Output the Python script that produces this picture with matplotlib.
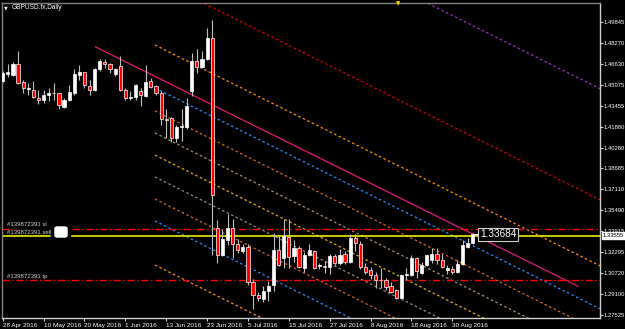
import matplotlib
matplotlib.use('Agg')
import matplotlib.pyplot as plt
from matplotlib.patches import Rectangle, FancyBboxPatch
import numpy as np

plt.rcParams['font.family'] = ['Liberation Sans', 'DejaVu Sans']

# GBPUSD.fx daily bars, 28 Apr 2016 .. 5 Sep 2016 (weekdays)
opens = [1.4535, 1.4592, 1.4577, 1.4661, 1.4526, 1.4472, 1.4470, 1.4406, 1.4394, 1.4432,
         1.4440, 1.4440, 1.4338, 1.4389, 1.4444, 1.4581, 1.4602, 1.4495, 1.4470, 1.4623,
         1.4681, 1.4661, 1.4589, 1.4648, 1.4470, 1.4404, 1.4412, 1.4457, 1.4422, 1.4534,
         1.4495, 1.4444, 1.4245, 1.4250, 1.4101, 1.4186, 1.4186, 1.4460, 1.4686, 1.4640,
         1.4699, 1.4863, 1.3416, 1.3206, 1.3325, 1.3416, 1.3297, 1.3240, 1.3270, 1.3003,
         1.2906, 1.2873, 1.2937, 1.2982, 1.3251, 1.3190, 1.3350, 1.3200, 1.3261, 1.3110,
         1.3213, 1.3243, 1.3128, 1.3128, 1.3120, 1.3202, 1.3145, 1.3220, 1.3156, 1.3339,
         1.3296, 1.3118, 1.3092, 1.3057, 1.3016, 1.3020, 1.2970, 1.2940, 1.2884, 1.3060,
         1.3060, 1.3183, 1.3072, 1.3130, 1.3175, 1.3216, 1.3175, 1.3098, 1.3105, 1.3080,
         1.3143, 1.3270, 1.3300]
highs = [1.4610, 1.4661, 1.4681, 1.4762, 1.4539, 1.4521, 1.4533, 1.4470, 1.4470, 1.4482,
         1.4521, 1.4444, 1.4406, 1.4508, 1.4623, 1.4655, 1.4604, 1.4539, 1.4635, 1.4699,
         1.4699, 1.4673, 1.4636, 1.4724, 1.4482, 1.4457, 1.4513, 1.4482, 1.4655, 1.4559,
         1.4508, 1.4457, 1.4318, 1.4260, 1.4200, 1.4320, 1.4407, 1.4750, 1.4775, 1.4762,
         1.4940, 1.5001, 1.3474, 1.3406, 1.3525, 1.3480, 1.3333, 1.3297, 1.3290, 1.3029,
         1.2929, 1.2975, 1.3010, 1.3378, 1.3358, 1.3480, 1.3480, 1.3320, 1.3280, 1.3230,
         1.3290, 1.3250, 1.3150, 1.3166, 1.3220, 1.3220, 1.3255, 1.3240, 1.3370, 1.3370,
         1.3318, 1.3150, 1.3115, 1.3080, 1.3110, 1.3035, 1.3003, 1.2950, 1.3062, 1.3110,
         1.3212, 1.3194, 1.3155, 1.3220, 1.3266, 1.3266, 1.3220, 1.3130, 1.3122, 1.3168,
         1.3325, 1.3338, 1.3380]
lows = [1.4525, 1.4564, 1.4572, 1.4513, 1.4444, 1.4432, 1.4406, 1.4356, 1.4371, 1.4381,
        1.4394, 1.4323, 1.4330, 1.4381, 1.4432, 1.4539, 1.4483, 1.4432, 1.4457, 1.4610,
        1.4635, 1.4597, 1.4572, 1.4457, 1.4394, 1.4389, 1.4389, 1.4343, 1.4414, 1.4483,
        1.4432, 1.4200, 1.4101, 1.4071, 1.4070, 1.4077, 1.4173, 1.4420, 1.4597, 1.4635,
        1.4693, 1.3213, 1.3145, 1.3201, 1.3287, 1.3186, 1.3226, 1.3226, 1.2983, 1.2799,
        1.2861, 1.2848, 1.2860, 1.2935, 1.3122, 1.3112, 1.3110, 1.3155, 1.3107, 1.3080,
        1.3200, 1.3100, 1.3100, 1.3075, 1.3067, 1.3136, 1.3130, 1.3140, 1.3150, 1.3240,
        1.3105, 1.3062, 1.3030, 1.2960, 1.2960, 1.2940, 1.2920, 1.2876, 1.2880, 1.3020,
        1.3050, 1.3034, 1.3065, 1.3125, 1.3150, 1.3140, 1.3110, 1.3064, 1.3067, 1.3073,
        1.3130, 1.3260, 1.3295]
closes = [1.4597, 1.4604, 1.4661, 1.4516, 1.4483, 1.4485, 1.4414, 1.4394, 1.4432, 1.4444,
          1.4442, 1.4351, 1.4394, 1.4450, 1.4589, 1.4602, 1.4501, 1.4470, 1.4627, 1.4686,
          1.4661, 1.4623, 1.4630, 1.4470, 1.4406, 1.4412, 1.4508, 1.4432, 1.4528, 1.4490,
          1.4444, 1.4248, 1.4240, 1.4097, 1.4186, 1.4190, 1.4345, 1.4686, 1.4643, 1.4699,
          1.4863, 1.3670, 1.3206, 1.3333, 1.3416, 1.3297, 1.3244, 1.3270, 1.3003, 1.2906,
          1.2880, 1.2937, 1.2975, 1.3245, 1.3137, 1.3358, 1.3194, 1.3261, 1.3116, 1.3210,
          1.3246, 1.3111, 1.3136, 1.3118, 1.3204, 1.3145, 1.3213, 1.3156, 1.3339, 1.3303,
          1.3118, 1.3082, 1.3054, 1.3016, 1.3020, 1.2963, 1.2930, 1.2884, 1.3057, 1.3066,
          1.3183, 1.3086, 1.3137, 1.3210, 1.3220, 1.3175, 1.3120, 1.3110, 1.3080, 1.3143,
          1.3285, 1.3300, 1.33684]

date_labels = ['28 Apr 2016', '10 May 2016', '20 May 2016', '1 Jun 2016', '13 Jun 2016',
               '23 Jun 2016', '5 Jul 2016', '15 Jul 2016', '27 Jul 2016', '8 Aug 2016',
               '18 Aug 2016', '30 Aug 2016']
date_label_bars = [0, 8, 16, 24, 32, 40, 48, 56, 64, 72, 80, 88]

price_ticks = [1.49845, 1.48270, 1.46630, 1.45075, 1.43455, 1.41880, 1.40260, 1.38685,
               1.37110, 1.35490, 1.33915, 1.32295, 1.30720, 1.29100, 1.27525]

# order #139872391
sl_price = 1.3410
sell_price = 1.33555
tp_price = 1.3020
label_price = 1.33684

# trend line + parallel channel (price at channel_start bar, same slope for all)
trend_bar0, trend_price0, trend_bar1 = 18.1, 1.4796, 112.6
channel_start = 29.8
channel_slope = -0.001931
channel_levels = [1.6158, 1.5312, 1.4809, 1.4482, 1.4307, 1.4139, 1.3971, 1.3804,
                  1.3636, 1.3469, 1.3133]
channel_colors = ['#9932cc', '#e00000', '#ff8c00', '#1e90ff', '#d2691e', '#a89070',
                  '#e0b000', '#9a8a7a', '#d2691e', '#1e90ff', '#ff8c00']

W, H = 625, 329
fig = plt.figure(figsize=(W / 100, H / 100), dpi=100, facecolor='black')
ax = fig.add_axes([2 / W, 1 - 318 / H, 598 / W, 315 / H], facecolor='black')
ax.set_xlim(-0.14, 116.9)
ax.set_ylim(1.27296, 1.51292)

grey = '#c0c0c0'

# channel lines
xs_end = 117.0
for lvl, col in zip(channel_levels, channel_colors):
    ax.plot([channel_start, xs_end], [lvl, lvl + channel_slope * (xs_end - channel_start)],
            color=col, lw=0.9, linestyle=(0, (2, 2)), zorder=1)
ax.plot([trend_bar0, trend_bar1],
        [trend_price0, trend_price0 + channel_slope * (trend_bar1 - trend_bar0)],
        color='#e0187a', lw=0.9, zorder=1)

# order lines
yt = ax.get_yaxis_transform()
dd = (0, (5, 2, 1, 2))
ax.plot([0, 0.025], [sl_price, sl_price], color='red', lw=1, ls=dd, transform=yt, zorder=2)
ax.plot([0.117, 1], [sl_price, sl_price], color='red', lw=1, ls=dd, transform=yt, zorder=2)
ax.plot([0, 1], [tp_price, tp_price], color='red', lw=1, ls=dd, transform=yt, zorder=2)
ax.plot([0, 0.08], [sell_price, sell_price], color='#ffff00', lw=1.1, transform=yt, zorder=2)
ax.plot([0.117, 1], [sell_price, sell_price], color='#ffff00', lw=1.1, transform=yt, zorder=2)

# candles
bw = 0.62
for i, (o, h, l, c) in enumerate(zip(opens, highs, lows, closes)):
    ax.plot([i, i], [l, h], color=grey, lw=0.8, zorder=3, solid_capstyle='butt')
    lo, hi = min(o, c), max(o, c)
    if hi - lo < 0.0004:
        hi = lo + 0.0004
    fc = 'white' if c >= o else '#ff0000'
    ax.add_patch(Rectangle((i - bw / 2, lo), bw, hi - lo, facecolor=fc,
                           edgecolor='white', lw=0.5, zorder=4))

# texts for the order
tkw = dict(fontsize=4.3, color='#d0d0d0', va='center', ha='left', transform=fig.transFigure)
fig.text(7 / W, 1 - 225 / H, '#139872391 sl', **tkw)
fig.text(7 / W, 1 - 232.5 / H, '#139872391 sell', **tkw)
fig.text(7 / W, 1 - 276.5 / H, '#139872391 tp', **tkw)
fig.patches.append(FancyBboxPatch((55 / W, 1 - 237 / H), 12 / W, 10 / H,
                                  boxstyle='round,pad=0,rounding_size=0.004',
                                  facecolor='white', edgecolor='white',
                                  transform=fig.transFigure, figure=fig))

# price label near the last bar
n = len(closes)
ax.plot([n - 1, n - 0.1], [label_price, label_price], color='white', lw=0.8, zorder=5)
ax.text(n + 0.4, label_price, '1.33684', fontsize=7.2, color='white', va='center', ha='left',
        zorder=6,
        bbox=dict(boxstyle='square,pad=0.15', facecolor='black', edgecolor='#d0d0d0', lw=0.8))

# axes look
for s in ['left', 'top']:
    ax.spines[s].set_color('#808080')
    ax.spines[s].set_linewidth(1)
for s in ['right', 'bottom']:
    ax.spines[s].set_color('#d0d0d0')
    ax.spines[s].set_linewidth(1)

ax.yaxis.tick_right()
ax.set_yticks(price_ticks)
ax.set_yticklabels([f'{p:.5f}' for p in price_ticks])
ax.tick_params(axis='y', colors='#d0d0d0', labelsize=4.2, length=2, width=0.8, pad=0.8,
               labelcolor='white')
ax.set_xticks(date_label_bars)
ax.set_xticklabels(date_labels)
ax.tick_params(axis='x', colors='#d0d0d0', labelsize=4.6, length=2, width=0.8, pad=1.5,
               labelcolor='white')
for t in ax.get_xticklabels():
    t.set_horizontalalignment('left')

# current bid box on the price axis
ax.text(1.004, sell_price, f'{sell_price:.5f}', transform=yt, fontsize=4.2, color='black',
        va='center', ha='left', zorder=7,
        bbox=dict(boxstyle='square,pad=0.15', facecolor='white', edgecolor='white'))

# chart caption
fig.text(4 / W, 1 - 7.5 / H, '\u25bc', fontsize=3.5, color='white', va='center', ha='left',
         family='DejaVu Sans')
fig.text(12 / W, 1 - 7.5 / H, 'GBPUSD.fx,Daily', fontsize=4.7, color='white', va='center', ha='left')
# chart shift marker
fig.text(398 / W, 1 - 4 / H, '\u25bc', fontsize=4, color='#ffd700', va='center', ha='center',
         family='DejaVu Sans')

fig.savefig('out.png', dpi=100, facecolor='black')
